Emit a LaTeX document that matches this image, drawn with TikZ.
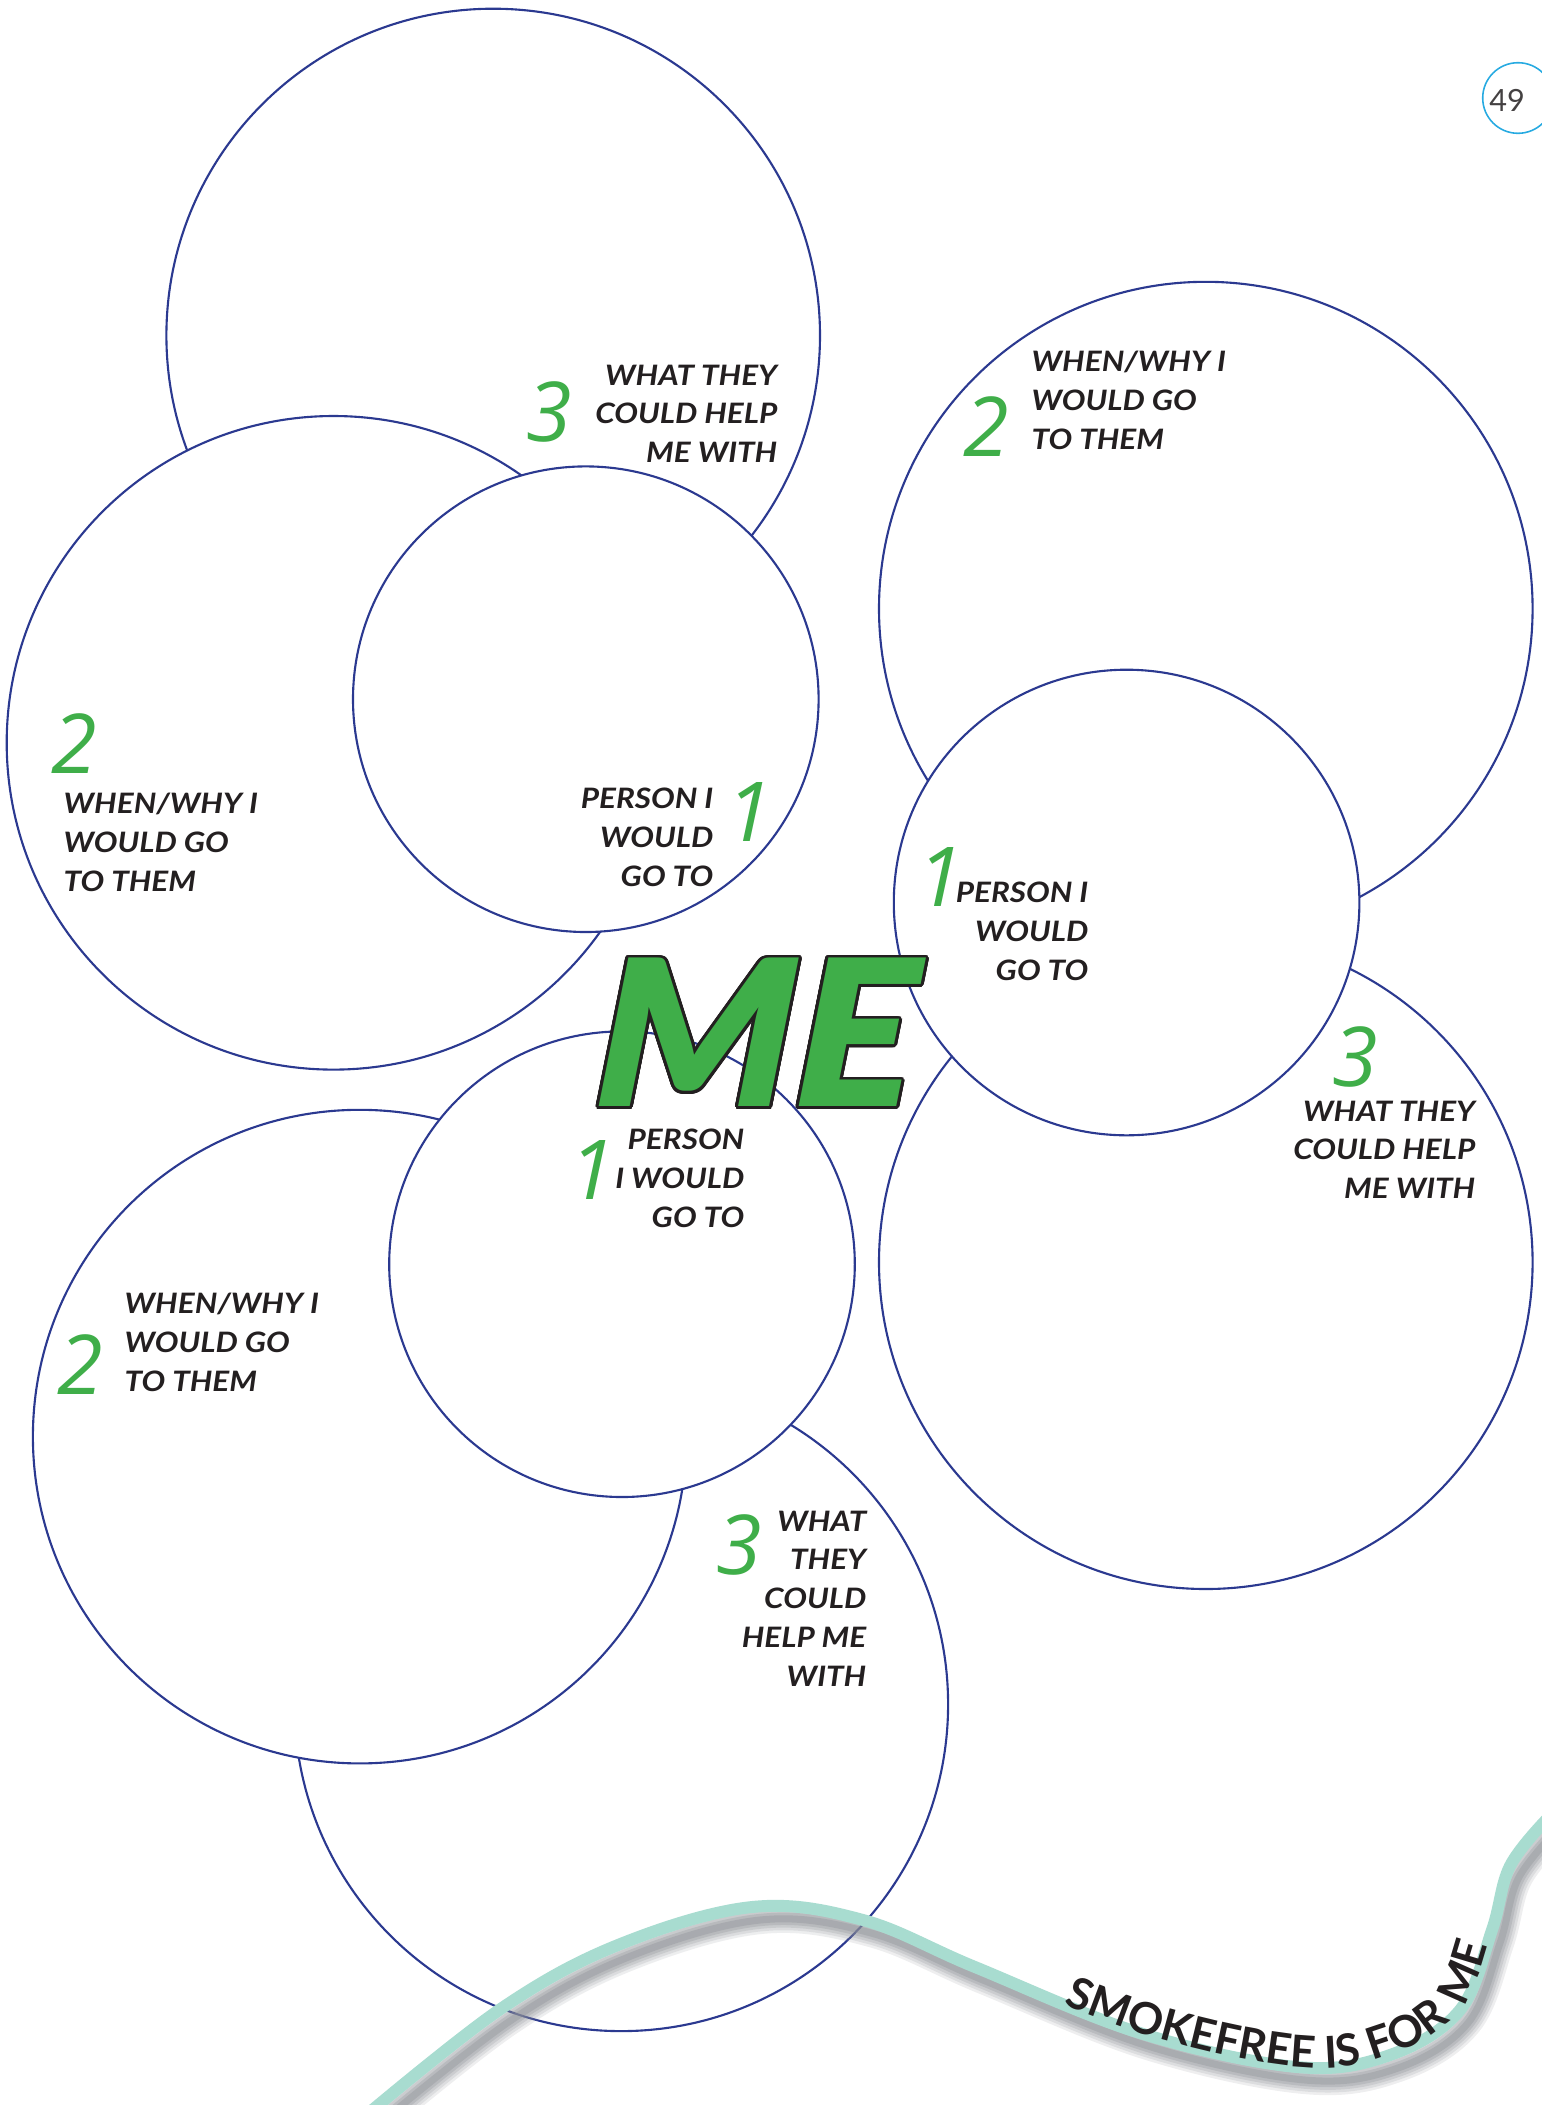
\documentclass[tikz,border=0pt]{standalone}
\usepackage{fontspec}
\setsansfont{Lato}
\newfontfamily\saysfont{Lato}[FakeStretch=1.12]
\newfontfamily\mefont{Lato Black}[FakeSlant=0.2, FakeStretch=1.02]
\newfontfamily\numfont{Open Sans}
\usepackage{xcolor}
\usepackage{contour}
\usetikzlibrary{decorations.text}
\contourlength{0.8pt}
\contournumber{32}

\definecolor{ringblue}{HTML}{2B3990}
\definecolor{megreen}{HTML}{3FAE49}
\definecolor{inkdark}{HTML}{231F20}
\definecolor{ribbonteal}{HTML}{A8DCD0}
\definecolor{pagecyan}{HTML}{27AAE1}
\definecolor{shadowgrey}{HTML}{8C8F95}

\newcommand{\ribbonpath}{plot[smooth, tension=0.6] coordinates {(370,2112) (502,2008) (618,1945) (752,1907) (863,1920) (975,1967) (1140,2033) (1297,2067) (1390,2055) (1460,2010) (1492,1930) (1510,1866) (1548,1818)}}

\begin{document}
\begin{tikzpicture}[x=0.01cm, y=-0.01cm,
		bubble/.style={draw=ringblue, fill=white, line width=0.6pt},
		says/.style={font=\saysfont\bfseries\itshape\fontsize{8}{11.07}\selectfont, text=inkdark, inner sep=0pt},
		num/.style={font=\numfont\itshape\fontsize{23.5}{24}\selectfont, text=megreen, inner sep=0pt}]
				\useasboundingbox (0,0) rectangle (1542,2105);
				
				% flower top left
				\draw [bubble] (493.2,335.5) circle [radius=326.8];
				\draw [bubble] (333.5,742.8) circle [radius=326.8];
				\draw [bubble] (585.8,699.2) circle [radius=232.8];
				
				% flower right
				\draw [bubble] (1205.8,608.6) circle [radius=326.8];
				\draw [bubble] (1205.8,1262.2) circle [radius=326.8];
				\draw [bubble] (1126.6,902.5) circle [radius=232.8];
				
				% flower bottom left
				\draw [bubble] (621.3,1704.3) circle [radius=326.8];
				\draw [bubble] (359.7,1436.6) circle [radius=326.8];
				\draw [bubble] (622,1264.2) circle [radius=232.8];
				
				% ME
				\node [font=\mefont\fontsize{58}{58}\selectfont, text=megreen, inner sep=0pt] (me) at (744,1034) {\contour{inkdark}{ME}};
				
				% labels top left
				\node [num] (threeA) at (549,412) {3};
				\node [says, anchor=north east, align=right] (helpA) at (778,364) {WHAT THEY\\COULD HELP\\ME WITH};
				\node [num] (twoB) at (74,744) {2};
				\node [says, anchor=north west, align=left] (whenB) at (63,792) {WHEN/WHY I\\WOULD GO\\TO THEM};
				\node [num] (oneC) at (749,812) {1};
				\node [says, anchor=north east, align=right] (personC) at (714,787) {PERSON I\\WOULD\\GO TO};
				
				% labels right
				\node [num] (twoD) at (986,427) {2};
				\node [says, anchor=north west, align=left] (whenD) at (1031,350) {WHEN/WHY I\\WOULD GO\\TO THEM};
				\node [num] (oneF) at (940,877) {1};
				\node [says, anchor=north east, align=right] (personF) at (1089,881) {PERSON I\\WOULD\\GO TO};
				\node [num] (threeE) at (1355,1057) {3};
				\node [says, anchor=north east, align=right] (helpE) at (1476,1100) {WHAT THEY\\COULD HELP\\ME WITH};
				
				% labels bottom left
				\node [num] (oneI) at (592,1170) {1};
				\node [says, anchor=north east, align=right] (personI) at (745,1128) {PERSON\\I WOULD\\GO TO};
				\node [num] (twoG) at (80,1365) {2};
				\node [says, anchor=north west, align=left] (whenG) at (124,1292) {WHEN/WHY I\\WOULD GO\\TO THEM};
				\node [num] (threeH) at (739,1545) {3};
				\node [says, anchor=north east, align=right] (helpH) at (867,1510) {WHAT\\THEY\\COULD\\HELP ME\\WITH};
				
				% ribbon with shadow
				\foreach \w/\o in {8/0.15, 6.5/0.18, 5/0.22, 3.5/0.28, 2/0.35}
					\draw [shadowgrey, opacity=\o, line width=\w pt, shift={(8,13)}] \ribbonpath;
				\draw [ribbonteal, line width=3.4pt] \ribbonpath;
				\path [decorate, decoration={text along path, text color=inkdark,
					text={|\sffamily\bfseries\fontsize{12.5}{12.5}\selectfont|SMOKEFREE IS FOR{\ \,}ME},
					text align={left indent=219pt}}] \ribbonpath;
				
				% page number
				\draw [pagecyan, line width=0.45pt] (1518,98) circle [radius=35.3];
				\node [font=\sffamily\fontsize{8.7}{9}\selectfont, text=inkdark!85, inner sep=0pt] (pageno) at (1507,100) {49};
				
			\end{tikzpicture}
\end{document}
